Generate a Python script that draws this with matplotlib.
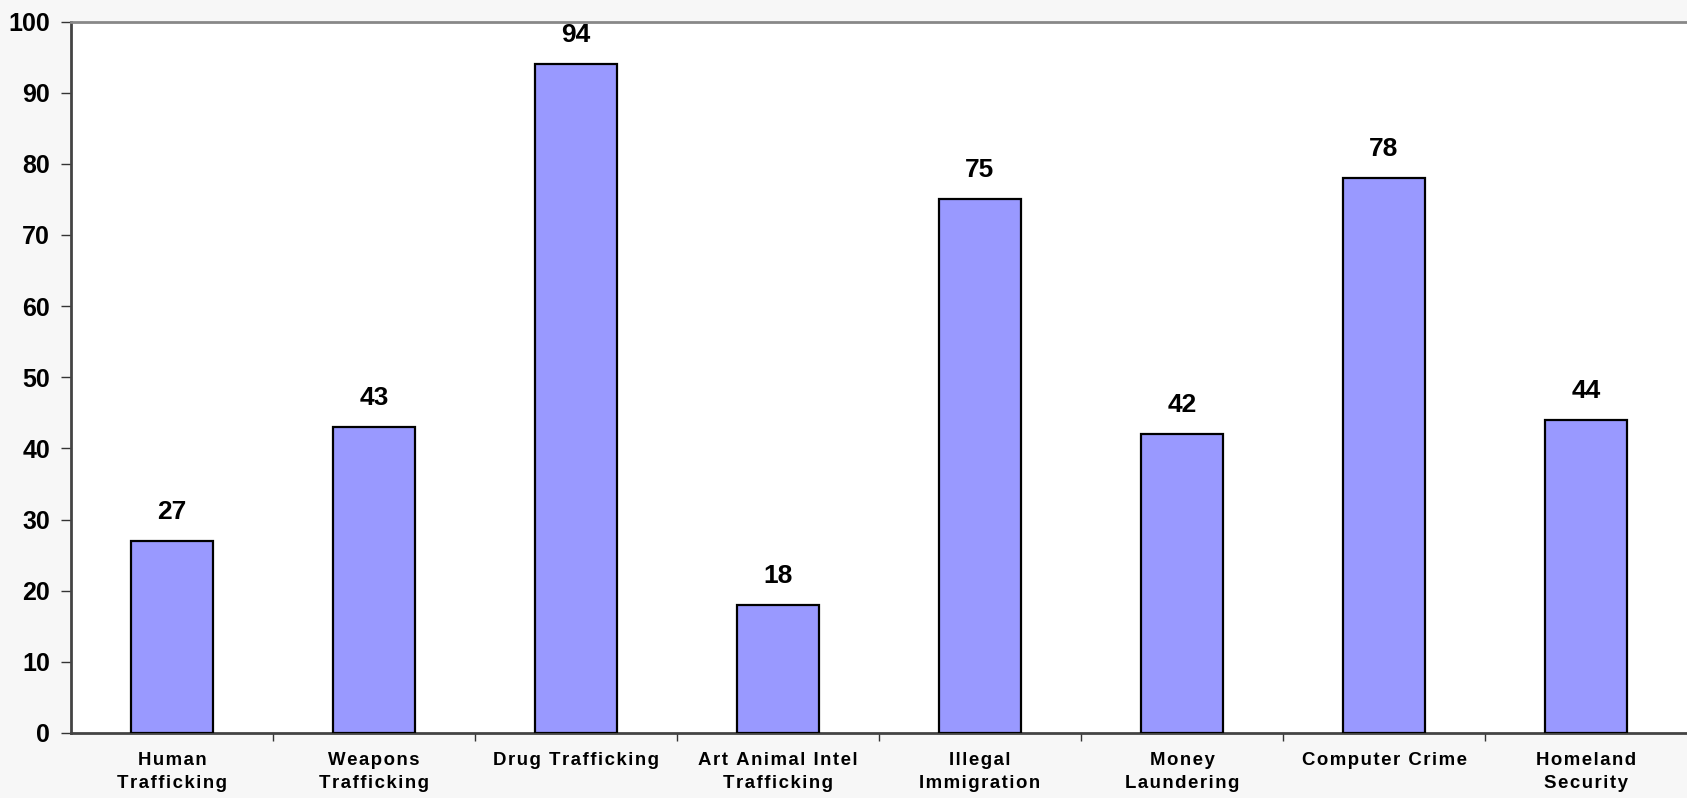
import numpy as np
import matplotlib.pyplot as plt

plt.rcParams['font.family'] = ['Liberation Sans', 'DejaVu Sans']

categories = ['Human\nTrafficking', 'Weapons\nTrafficking', 'Drug Trafficking',
              'Art Animal Intel\nTrafficking', 'Illegal\nImmigration', 'Money\nLaundering',
              'Computer Crime', 'Homeland\nSecurity']
values = [27, 43, 94, 18, 75, 42, 78, 44]
yticks = [0, 10, 20, 30, 40, 50, 60, 70, 80, 90, 100]


def spaced(s):
    # the original labels are letter-spaced; hair spaces between letters
    return '\n'.join('\u200a'.join(line) for line in s.split('\n'))


fig = plt.figure(figsize=(16.87, 7.98), dpi=100, facecolor='#f7f7f7')
ax = fig.add_axes([71 / 1687, 1 - 733 / 798, 1 - 71 / 1687, (733 - 21.5) / 798])
ax.set_facecolor('white')

x = np.arange(len(categories))
ax.bar(x, values, width=0.41, color='#9999ff', edgecolor='black', linewidth=1.6, zorder=3)

for xi, v in zip(x, values):
    ax.text(xi, v + 3.1, str(v), ha='center', va='baseline', fontsize=19,
            fontweight='bold', clip_on=False, zorder=4)

ax.set_xlim(-0.5, len(categories) - 0.5)
ax.set_ylim(0, 100)
ax.set_yticks(yticks)
ax.set_yticklabels([str(t) for t in yticks], fontsize=18, fontweight='bold')
ax.tick_params(axis='y', length=7, width=1, color='#333333', pad=8)

# category ticks sit between the bars
ax.set_xticks(x[:-1] + 0.5)
ax.set_xticklabels([])
ax.set_xticks(x, minor=True)
ax.set_xticklabels([spaced(c) for c in categories], minor=True, fontsize=13.4,
                   fontweight='bold', linespacing=1.45)
ax.tick_params(axis='x', which='major', length=6, width=1, color='#333333')
ax.tick_params(axis='x', which='minor', length=0, pad=14)

ax.spines['right'].set_visible(False)
ax.spines['top'].set_color('#888888')
ax.spines['top'].set_linewidth(2)
ax.spines['left'].set_color('#444444')
ax.spines['left'].set_linewidth(2)
ax.spines['bottom'].set_color('#444444')
ax.spines['bottom'].set_linewidth(2)

fig.savefig('out.png', dpi=100, facecolor=fig.get_facecolor())
